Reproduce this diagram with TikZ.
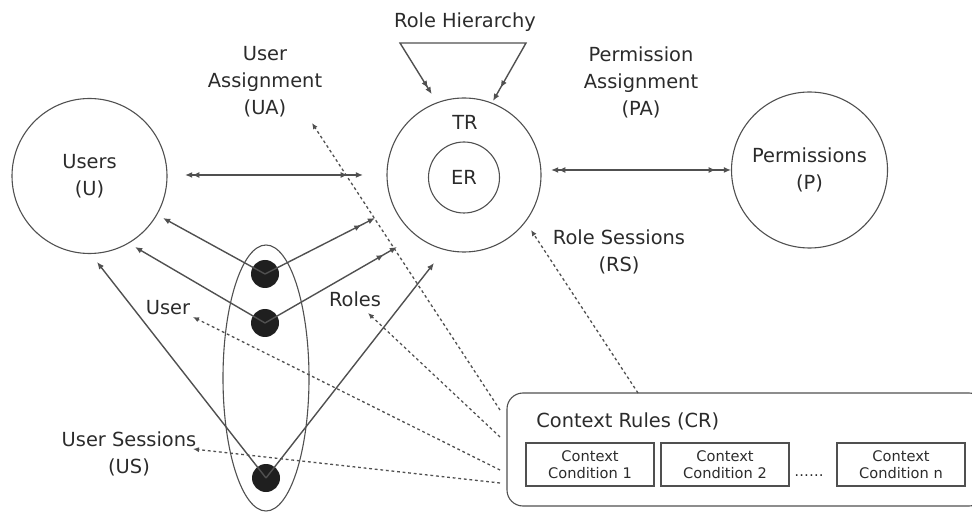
\documentclass[tikz,border=0pt]{standalone}
\usepackage{fontspec}
\setmainfont{DejaVu Sans}
\usetikzlibrary{arrows.meta,shapes.geometric}
\definecolor{txt}{HTML}{2b2b2b}
\definecolor{ln}{HTML}{505050}
\begin{document}
\begin{tikzpicture}[x=0.5pt,y=-0.5pt,
  font=\fontsize{9.7}{13.5}\selectfont, text=txt,
  lbl/.style={align=center, inner sep=0pt},
  ring/.style={circle, draw=ln, line width=0.55pt, inner sep=0pt, align=center},
  blackdot/.style={circle, fill=black!88, minimum size=14pt, inner sep=0pt},
  conn/.style={draw=ln, line width=0.7pt},
  tipone/.style={-{Latex[length=3.6pt,width=3pt]}},
  tiptwo/.style={-{Latex[length=3.6pt,width=3pt,sep=4pt]Latex[length=3.6pt,width=3pt]}},
  tipboth/.style={{Latex[length=3.6pt,width=3pt,sep=4pt]Latex[length=3.6pt,width=3pt]}-{Latex[length=3.6pt,width=3pt,sep=4pt]Latex[length=3.6pt,width=3pt]}},
  dotline/.style={draw=ln, line width=0.65pt, dash pattern=on 1.4pt off 1.4pt, -{Latex[length=3pt,width=2.6pt]}},
  small/.style={font=\fontsize{7.3}{8.4}\selectfont},
  cbox/.style={draw=ln, line width=0.55pt, minimum width=64pt, minimum height=21.5pt, inner sep=0pt, align=center, small}
]
\useasboundingbox (0,0) rectangle (972,512);

% circles
\node[ring, minimum size=77.5pt] (U) at (89.5,176) {Users\\(U)};
\node[ring, minimum size=77pt] (TR) at (464,175) {};
\node[ring, minimum size=35.5pt] (ER) at (464,177.5) {ER};
\node[lbl] (trl) at (465,122) {TR};
\node[ring, minimum size=78pt] (P) at (809.5,170) {Permissions\\(P)};

% labels
\node[lbl] (rh) at (465,22) {Role Hierarchy};
\node[lbl] (ua) at (265,82) {User\\Assignment\\(UA)};
\node[lbl] (pa) at (641,82) {Permission\\Assignment\\(PA)};
\node[lbl] (rs) at (619,252) {Role Sessions\\(RS)};
\node[lbl] (userl) at (168,308) {User};
\node[lbl] (rolesl) at (355,299) {Roles};
\node[lbl] (usl) at (129,454) {User Sessions\\(US)};

% sessions ellipse and dots
\node[ellipse, draw=ln, line width=0.55pt, minimum width=43pt, minimum height=133pt, inner sep=0pt] (E) at (266,378) {};
\node[blackdot] (d1) at (265,274) {};
\node[blackdot] (d2) at (265,323) {};
\node[blackdot] (d3) at (266,478) {};

% context rules box
\node[draw=ln, line width=0.55pt, rounded corners=8pt, minimum width=239pt, minimum height=56.5pt] (CR) at (746,449.5) {};
\node[anchor=west, inner sep=0pt] (crl) at (536,421) {Context Rules (CR)};
\node[cbox] (c1) at (590,464.5) {Context\\Condition 1};
\node[cbox] (c2) at (725,464.5) {Context\\Condition 2};
\node[cbox] (cn) at (901,464.5) {Context\\Condition n};
\node[small, inner sep=0pt] (cdots) at (809,476) {\ldots\ldots};

% coordinates
\coordinate (uaL) at (177,175);
\coordinate (uaR) at (363,175);
\coordinate (paL) at (543,170);
\coordinate (paR) at (731,170);
\coordinate (rh1) at (436,101);
\coordinate (rhL) at (400,43);
\coordinate (rhR) at (526,43);
\coordinate (rh2) at (493,101);
\coordinate (u1) at (163,218);
\coordinate (r1) at (375,218);
\coordinate (u2) at (135,247);
\coordinate (r2) at (397,247);
\coordinate (u3) at (97,262);
\coordinate (r3) at (434,263);
\coordinate (s1) at (500,410);
\coordinate (s2) at (500,437);
\coordinate (s3) at (500,470);
\coordinate (s4) at (500,483);
\coordinate (s5) at (638,393);
\coordinate (eUA) at (312,123);
\coordinate (eRoles) at (368,313);
\coordinate (eUser) at (193,317);
\coordinate (eUS) at (193,449);
\coordinate (eRS) at (531,230);

% solid connectors
\draw[conn, tipboth] (uaL) -- (uaR);
\draw[conn, tipboth] (paL) -- (paR);
\draw[conn, tipboth] (rh1) -- (rhL) -- (rhR) -- (rh2);
\draw[conn, tipone] (d1.center) -- (u1);
\draw[conn, tiptwo] (d1.center) -- (r1);
\draw[conn, tipone] (d2.center) -- (u2);
\draw[conn, tiptwo] (d2.center) -- (r2);
\draw[conn, tipone] (d3.center) -- (u3);
\draw[conn, tipone] (d3.center) -- (r3);

% dashed connectors
\draw[dotline] (s1) -- (eUA);
\draw[dotline] (s2) -- (eRoles);
\draw[dotline] (s3) -- (eUser);
\draw[dotline] (s4) -- (eUS);
\draw[dotline] (s5) -- (eRS);
\end{tikzpicture}
\end{document}
